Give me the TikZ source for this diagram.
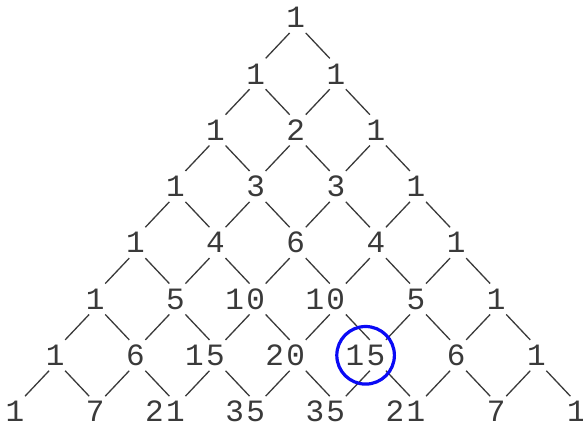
\documentclass[tikz,border=0pt]{standalone}
\usepackage{fontspec}
\setmonofont{Liberation Mono}
\usetikzlibrary{calc}
\definecolor{ink}{HTML}{3A3A3A}
\definecolor{ringblue}{HTML}{0A0AF5}
\newcommand\lead[1]{\llap{#1\kern2.4pt}}
\begin{document}
\begin{tikzpicture}[x=1pt,y=-1pt,
  num/.style={inner sep=0pt, font=\ttfamily\fontsize{31}{31}\selectfont, text=ink},
  link/.style={draw=ink, line width=1.3pt}]
\useasboundingbox (0,0) rectangle (583,423);
\fill[white] (0,0) rectangle (583,423);
\foreach \r/\vals in {0/{1},1/{1,1},2/{1,2,1},3/{1,3,3,1},4/{1,4,6,4,1},
  5/{1,5,\lead{1}0,\lead{1}0,5,1},
  6/{1,6,\lead{1}5,\lead{2}0,\lead{1}5,6,1},
  7/{1,7,\lead{2}1,\lead{3}5,\lead{3}5,\lead{2}1,7,1}}
{
  \foreach \v [count=\i from 0] in \vals
    \node[num] (n\r-\i) at ({295.7+80.2*(\i-\r/2)}, {17.5+56.3*\r}) {\v};
}
\foreach \r in {0,...,6}{
  \pgfmathtruncatemacro\rn{\r+1}
  \foreach \i in {0,...,\r}{
    \pgfmathtruncatemacro\ii{\i+1}
    \draw[link] ($(n\r-\i.center)!0.5!(n\rn-\i.center)+(14,-12.7)$) -- ($(n\r-\i.center)!0.5!(n\rn-\i.center)+(-10,12.7)$);
    \draw[link] ($(n\r-\i.center)!0.5!(n\rn-\ii.center)+(-10,-12.7)$) -- ($(n\r-\i.center)!0.5!(n\rn-\ii.center)+(14,12.7)$);
  }
}
\draw[ringblue, line width=3.2pt] ($(n6-4.center)+(-10.3,0)$) circle [radius=28.8];
\end{tikzpicture}
\end{document}
